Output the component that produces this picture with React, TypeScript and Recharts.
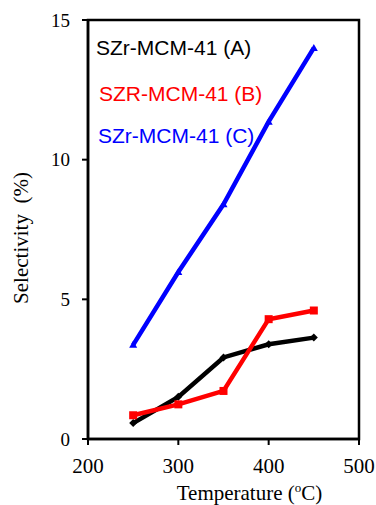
import React from "react";
import {
  LineChart,
  Line,
  XAxis,
  YAxis,
  ReferenceArea,
} from "recharts";

const temperatures = [250, 300, 350, 400, 450];
const seriesA = [0.57, 1.51, 2.92, 3.39, 3.63];
const seriesB = [0.85, 1.24, 1.72, 4.29, 4.6];
const seriesC = [3.37, 5.98, 8.4, 11.36, 14.0];
const xTicks = [200, 300, 400, 500];
const yTicks = [0, 5, 10, 15];

const series = [
  { key: "a", name: "SZr-MCM-41 (A)", color: "#000000", marker: "diamond" },
  { key: "b", name: "SZR-MCM-41 (B)", color: "#ff0000", marker: "square" },
  { key: "c", name: "SZr-MCM-41 (C)", color: "#0000ff", marker: "triangle" },
];

const data = temperatures.map((t, i) => ({
  t,
  a: seriesA[i],
  b: seriesB[i],
  c: seriesC[i],
}));

const serif = "'Liberation Serif', 'Times New Roman', serif";
const sans = "'Liberation Sans', Arial, sans-serif";

function makeDot(marker: string, color: string) {
  return (props: any) => {
    const { cx, cy, index } = props;
    if (cx == null || cy == null) return <g key={index} />;
    if (marker === "diamond") {
      return (
        <polygon
          key={index}
          points={`${cx},${cy - 4} ${cx + 4},${cy} ${cx},${cy + 4} ${cx - 4},${cy}`}
          fill={color}
        />
      );
    }
    if (marker === "square") {
      return <rect key={index} x={cx - 4} y={cy - 4} width={8} height={8} fill={color} />;
    }
    return (
      <polygon
        key={index}
        points={`${cx},${cy - 4} ${cx + 4},${cy + 3} ${cx - 4},${cy + 3}`}
        fill={color}
      />
    );
  };
}

// legend text positions (top of each line box), matches the reference layout
const legendTops = [37, 83, 125];
const legendLefts = [96, 99, 98];

const XLabel = (props: any) => {
  const { viewBox } = props;
  const cx = viewBox.x + viewBox.width / 2 + 26;
  return (
    <text x={cx} y={viewBox.y + 61} textAnchor="middle" fontFamily={serif} fontSize={21} fill="#000">
      Temperature (
      <tspan fontSize={13} dy={-8}>o</tspan>
      <tspan dy={8}>C)</tspan>
    </text>
  );
};

const YLabel = () => (
  <text
    x={21}
    y={238}
    transform="rotate(-90 21 238)"
    textAnchor="middle"
    dominantBaseline="central"
    fontFamily={serif}
    fontSize={21}
    fill="#000"
  >
    {"Selectivity\u00a0\u00a0(%)"}
  </text>
);

export default function App() {
  return (
    <div
      style={{
        position: "absolute",
        left: 0,
        top: 0,
        background: "#fff",
        width: 376,
        height: 505,
      }}
    >
      <LineChart
        width={376}
        height={505}
        data={data}
        margin={{ top: 20, right: 17, left: 28, bottom: 26 }}
        style={{ overflow: "visible" }}
      >
        <XAxis
          dataKey="t"
          type="number"
          domain={[200, 500]}
          ticks={xTicks}
          tickSize={6}
          tickMargin={13}
          axisLine={{ stroke: "#000", strokeWidth: 2.5 }}
          tickLine={{ stroke: "#000", strokeWidth: 2 }}
          tick={{ fill: "#000", fontFamily: serif, fontSize: 21 }}
          height={40}
          label={<XLabel />}
        />
        <YAxis
          type="number"
          domain={[0, 15]}
          ticks={yTicks}
          width={60}
          tickSize={6}
          tickMargin={12}
          axisLine={{ stroke: "#000", strokeWidth: 2.5 }}
          tickLine={{ stroke: "#000", strokeWidth: 2 }}
          tick={{ fill: "#000", fontFamily: serif, fontSize: 19 }}
          label={<YLabel />}
        />
        <ReferenceArea
          x1={200}
          x2={500}
          y1={0}
          y2={15}
          fill="none"
          stroke="#000"
          strokeWidth={2.5}
          ifOverflow="visible"
        />
        {series.map((s) => (
          <Line
            key={s.key}
            dataKey={s.key}
            name={s.name}
            stroke={s.color}
            strokeWidth={4.5}
            dot={makeDot(s.marker, s.color)}
            activeDot={false}
            isAnimationActive={false}
            type="linear"
          />
        ))}
      </LineChart>
      {series.map((s, i) => (
        <div
          key={s.key}
          style={{
            position: "absolute",
            left: legendLefts[i],
            top: legendTops[i],
            color: s.color,
            fontFamily: sans,
            fontSize: 21,
            lineHeight: "21px",
            whiteSpace: "nowrap",
          }}
        >
          {s.name}
        </div>
      ))}
    </div>
  );
}
